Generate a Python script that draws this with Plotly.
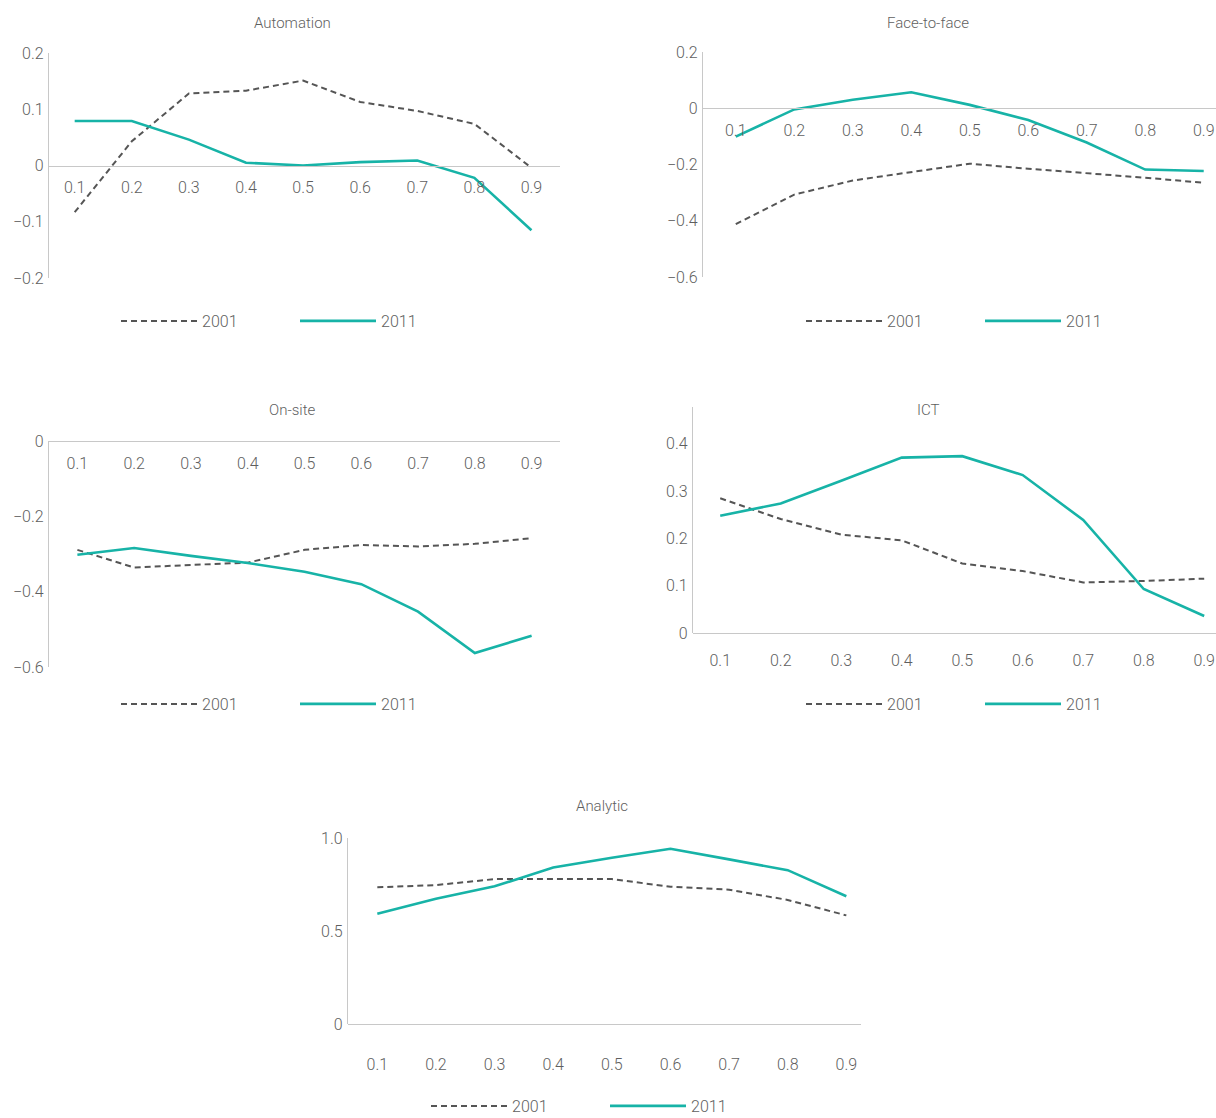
import plotly.graph_objects as go

deciles = ["0.1", "0.2", "0.3", "0.4", "0.5", "0.6", "0.7", "0.8", "0.9"]
series_names = ["2001", "2011"]

automation_2001 = [-0.083, 0.043, 0.128, 0.133, 0.151, 0.113, 0.097, 0.074, -0.004]
automation_2011 = [0.079, 0.079, 0.046, 0.005, 0.0, 0.006, 0.009, -0.022, -0.115]

face_2001 = [-0.412, -0.307, -0.257, -0.227, -0.197, -0.215, -0.230, -0.247, -0.265]
face_2011 = [-0.101, -0.004, 0.030, 0.057, 0.012, -0.042, -0.122, -0.218, -0.223]

onsite_2001 = [-0.289, -0.336, -0.329, -0.323, -0.289, -0.276, -0.280, -0.273, -0.258]
onsite_2011 = [-0.302, -0.284, -0.305, -0.324, -0.347, -0.380, -0.453, -0.563, -0.517]

ict_2001 = [0.285, 0.241, 0.208, 0.196, 0.147, 0.131, 0.107, 0.110, 0.115]
ict_2011 = [0.248, 0.274, 0.322, 0.371, 0.374, 0.334, 0.239, 0.093, 0.036]

analytic_2001 = [0.735, 0.747, 0.779, 0.779, 0.779, 0.738, 0.722, 0.667, 0.584]
analytic_2011 = [0.593, 0.673, 0.740, 0.841, 0.894, 0.942, 0.885, 0.827, 0.687]

titles = ["Automation", "Face-to-face", "On-site", "ICT", "Analytic"]

auto_ticks = [0.2, 0.1, 0, -0.1, -0.2]
auto_ticktext = ["0.2", "0.1", "0", "−0.1", "−0.2"]
face_ticks = [0.2, 0, -0.2, -0.4, -0.6]
face_ticktext = ["0.2", "0", "−0.2", "−0.4", "−0.6"]
onsite_ticks = [0, -0.2, -0.4, -0.6]
onsite_ticktext = ["0", "−0.2", "−0.4", "−0.6"]
ict_ticks = [0, 0.1, 0.2, 0.3, 0.4]
ict_ticktext = ["0", "0.1", "0.2", "0.3", "0.4"]
analytic_ticks = [0, 0.5, 1.0]
analytic_ticktext = ["0", "0.5", "1.0"]

W, H = 1216, 1118
TEAL = "#17b3a7"
DARK = "#555555"
AXIS = "#c8c8c8"
TEXT = "#5f5f5f"
FONT = "Roboto"
TICK_SIZE = 16
TITLE_SIZE = 15


def fx(px):
    return px / W


def fy(px):
    return 1 - px / H


panels = [
    dict(d01=automation_2001, d11=automation_2011, xd=(49, 560), yd=(53, 278), yr=(-0.2, 0.2),
         xr=(-0.45, 8.5), tv=auto_ticks, tt=auto_ticktext, xzero=True, tl=7,
         title=(292, 23), leg=(121, 321)),
    dict(d01=face_2001, d11=face_2011, xd=(703, 1216), yd=(52, 277), yr=(-0.6, 0.2),
         xr=(-0.56, 8.21), tv=face_ticks, tt=face_ticktext, xzero=True, tl=7,
         title=(928, 23), leg=(806, 321)),
    dict(d01=onsite_2001, d11=onsite_2011, xd=(49, 560), yd=(441, 667), yr=(-0.6, 0.0),
         xr=(-0.5, 8.5), tv=onsite_ticks, tt=onsite_ticktext, xzero=True, tl=8,
         title=(292, 410), leg=(121, 704)),
    dict(d01=ict_2001, d11=ict_2011, xd=(693, 1216), yd=(407, 633), yr=(0.0, 0.478),
         xr=(-0.45, 8.195), tv=ict_ticks, tt=ict_ticktext, xzero=False, tl=13,
         title=(928, 410), leg=(806, 704)),
    dict(d01=analytic_2001, d11=analytic_2011, xd=(348, 861), yd=(838, 1024), yr=(0.0, 1.0),
         xr=(-0.5, 8.25), tv=analytic_ticks, tt=analytic_ticktext, xzero=False, tl=26,
         title=(602, 806), leg=(431, 1106)),
]

fig = go.Figure()
layout = dict(
    width=W, height=H,
    margin=dict(l=0, r=0, t=0, b=0, autoexpand=False),
    paper_bgcolor="white", plot_bgcolor="white",
    font=dict(family=FONT, color=TEXT, size=TICK_SIZE, weight=300),
    annotations=[],
)

for i, p in enumerate(panels):
    n = i + 1
    xa = "x" if n == 1 else f"x{n}"
    ya = "y" if n == 1 else f"y{n}"
    lg = "legend" if n == 1 else f"legend{n}"
    fig.add_trace(go.Scatter(x=deciles, y=p["d01"], mode="lines", name=series_names[0],
                             line=dict(color=DARK, width=2, dash="6px,4px"),
                             xaxis=xa, yaxis=ya, legend=lg, cliponaxis=False))
    fig.add_trace(go.Scatter(x=deciles, y=p["d11"], mode="lines", name=series_names[1],
                             line=dict(color=TEAL, width=2.6),
                             xaxis=xa, yaxis=ya, legend=lg, cliponaxis=False))
    ydom = [fy(p["yd"][1]), fy(p["yd"][0])]
    y0, y1 = p["yr"]
    if p["xzero"]:
        pos = ydom[0] + (0 - y0) / (y1 - y0) * (ydom[1] - ydom[0])
    else:
        pos = ydom[0]
    xkey = "xaxis" if n == 1 else f"xaxis{n}"
    ykey = "yaxis" if n == 1 else f"yaxis{n}"
    layout[xkey] = dict(
        domain=[fx(p["xd"][0]), min(1.0, fx(p["xd"][1]))], range=list(p["xr"]),
        type="category", anchor="free", position=pos, automargin=False,
        showline=True, linecolor=AXIS, linewidth=1.3, showgrid=False, zeroline=False,
        ticks="outside", ticklen=p["tl"], tickcolor="rgba(0,0,0,0)",
        tickfont=dict(size=TICK_SIZE, color=TEXT, family=FONT, weight=300),
    )
    layout[ykey] = dict(
        domain=ydom, range=list(p["yr"]), anchor=xa, automargin=False,
        showline=True, linecolor=AXIS, linewidth=1.3, showgrid=False, zeroline=False,
        tickvals=p["tv"], ticktext=p["tt"],
        ticks="outside", ticklen=1, tickcolor="rgba(0,0,0,0)",
        tickfont=dict(size=TICK_SIZE, color=TEXT, family=FONT, weight=300),
    )
    layout["annotations"].append(dict(
        text=titles[i], x=fx(p["title"][0]), y=fy(p["title"][1]), xref="paper", yref="paper",
        xanchor="center", yanchor="middle", showarrow=False,
        font=dict(size=TITLE_SIZE, color=TEXT, family=FONT, weight=300),
    ))
    layout[lg] = dict(
        orientation="h", x=fx(p["leg"][0] - 5), y=fy(p["leg"][1]), xanchor="left", yanchor="middle",
        xref="paper", yref="paper", entrywidth=88, entrywidthmode="pixels", itemwidth=76,
        font=dict(size=TICK_SIZE, color=TEXT, family=FONT, weight=300), bgcolor="rgba(0,0,0,0)",
    )

fig.update_layout(**layout)
fig.write_html(
    "out.html",
    config={"displayModeBar": False},
    post_script="document.body.style.margin='0';document.documentElement.style.overflow='hidden';document.body.style.overflow='hidden';",
)
